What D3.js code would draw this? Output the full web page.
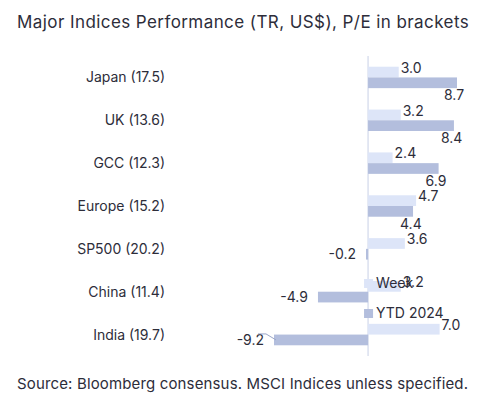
<!DOCTYPE html>
<html><head><meta charset="utf-8">
<script src="https://cdn.jsdelivr.net/npm/d3@7"></script>
<style>body{margin:0;background:#fff;font-family:Inter,"Noto Sans",sans-serif}</style>
</head><body><svg id="c" width="487" height="400"></svg>
<script>
const categories = ["Japan (17.5)","UK (13.6)","GCC (12.3)","Europe (15.2)","SP500 (20.2)","China (11.4)","India (19.7)"];
const week = [3.0, 3.2, 2.4, 4.7, 3.6, 3.2, 7.0];
const ytd = [8.7, 8.4, 6.9, 4.4, -0.2, -4.9, -9.2];
const seriesNames = ["Week","YTD 2024"];
const colors = ["#dde5f8","#b3bedd"];

const svg = d3.select("#c");
const x = d3.scaleLinear().domain([-9.2, 8.7]).range([274, 457]);
const y = d3.scaleBand().domain(categories).range([56, 356]).paddingInner(0.5).paddingOuter(0.25);
const sub = d3.scaleBand().domain([0,1]).range([0, y.bandwidth()]);

svg.append("text").attr("x", 17).attr("y", 28).attr("font-size", 17).attr("letter-spacing", 0.3)
  .attr("fill", "#2d2d3a").attr("textLength", 452).text("Major Indices Performance (TR, US$), P/E in brackets");

svg.append("line").attr("x1", x(0)).attr("x2", x(0)).attr("y1", 56).attr("y2", 356).attr("stroke", "#c8d0e6");

const g = svg.append("g").attr("font-size", 14).attr("fill", "#2d2d3a");
categories.forEach((c, i) => {
  const y0 = y(c);
  g.append("text").attr("x", 165).attr("y", y0 + y.bandwidth()/2 + 5).attr("text-anchor", "end").text(c);
  [week[i], ytd[i]].forEach((v, k) => {
    const yy = y0 + sub(k);
    g.append("rect").attr("x", Math.min(x(0), x(v))).attr("y", yy)
      .attr("width", Math.abs(x(v) - x(0))).attr("height", sub.bandwidth()).attr("fill", colors[k]);
    const lx = v >= 0 ? (k === 0 ? Math.max(x(v) + 2, x(0) + 12) : x(v) - 13) : x(v) - 10;
    const ly = v >= 0 ? (k === 0 ? yy + 6 : yy + sub.bandwidth() + 12) : yy + sub.bandwidth()/2 + 5;
    g.append("text").attr("x", lx).attr("y", ly)
      .attr("text-anchor", v < 0 ? "end" : "start").text(v.toFixed(1));
  });
});
// leader line for India
const iy = y("India (19.7)") + sub(1) + sub.bandwidth()/2;
svg.append("path").attr("d", `M${x(-9.2)-16},${iy-6} L${x(-9.2)-8},${iy-6} L${x(-9.2)+2},${iy}`).attr("fill","none").attr("stroke","#9aa6c8");

// legend
const lg = svg.append("g").attr("font-size", 14).attr("fill", "#2d2d3a");
seriesNames.forEach((n, i) => {
  const ly = 279 + i * 30;
  lg.append("rect").attr("x", x(0) - 4).attr("y", ly).attr("width", 9).attr("height", 9).attr("fill", colors[i]);
  lg.append("text").attr("x", x(0) + 8).attr("y", ly + 9).text(n);
});

svg.append("text").attr("x", 17).attr("y", 389).attr("font-size", 15).attr("fill", "#2d2d3a")
  .attr("textLength", 451).text("Source: Bloomberg consensus. MSCI Indices unless specified.");
</script></body></html>
